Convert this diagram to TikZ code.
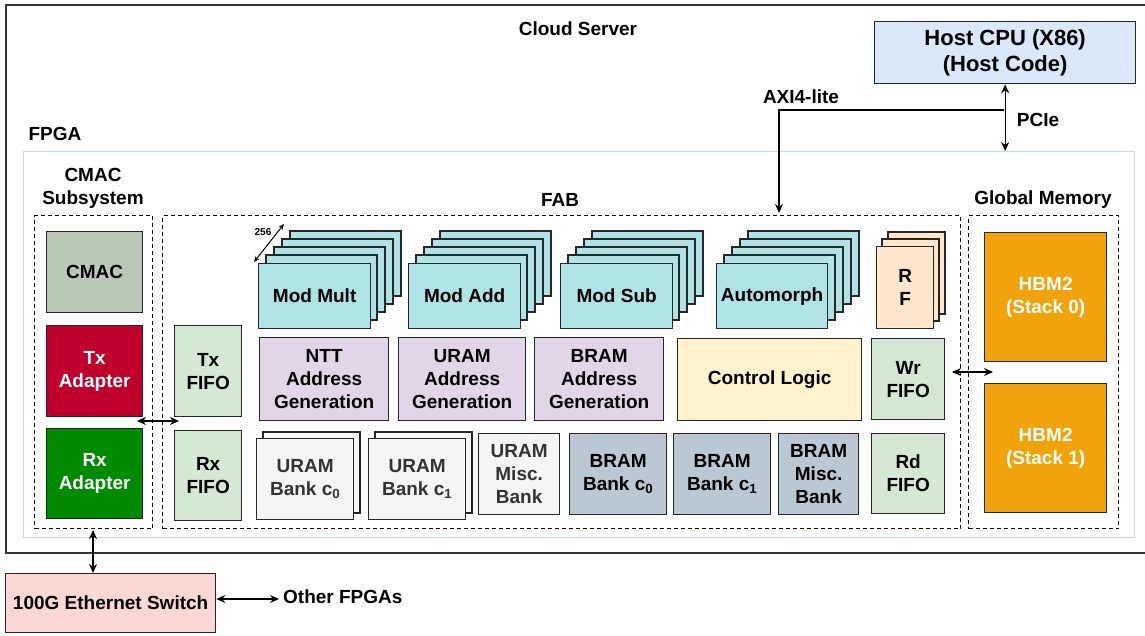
\documentclass[tikz,border=0pt]{standalone}
\usepackage{fontspec}
\setmainfont{Liberation Sans}
\usetikzlibrary{arrows.meta}
\definecolor{hostc}{HTML}{DAE8FC}
\definecolor{modc}{HTML}{B0E3E6}
\definecolor{rfc}{HTML}{FFE6CC}
\definecolor{addrc}{HTML}{E1D5E7}
\definecolor{ctrlc}{HTML}{FFF2CC}
\definecolor{fifoc}{HTML}{D5E8D4}
\definecolor{uramc}{HTML}{F5F5F5}
\definecolor{bramc}{HTML}{BAC8D3}
\definecolor{hbmc}{HTML}{F0A30A}
\definecolor{cmacc}{HTML}{BAC8B6}
\definecolor{txc}{HTML}{C0002C}
\definecolor{rxc}{HTML}{008A00}
\definecolor{swc}{HTML}{FAD9D5}
\definecolor{fpgac}{HTML}{C9D6E3}
\definecolor{cloudc}{HTML}{333333}
\definecolor{darktext}{HTML}{333333}
\tikzset{
  bx/.style={draw=black!85, line width=1.3pt, anchor=north west, inner sep=0pt,
    align=center, font=\bfseries\fontsize{19}{23}\selectfont},
  layer/.style={draw=black!85, line width=1.3pt},
  lbl/.style={font=\bfseries\fontsize{19}{23}\selectfont, inner sep=0pt, align=center},
  dbox/.style={draw=black, dash pattern=on 4pt off 3pt, line width=1.2pt},
  arr/.style={{Stealth[length=9pt,width=8pt]}-{Stealth[length=9pt,width=8pt]}, line width=1.3pt},
  sarr/.style={-{Stealth[length=9pt,width=8pt]}, line width=1.3pt},
}
\begin{document}
\begin{tikzpicture}[x=1pt,y=-1pt]
\useasboundingbox (0,0) rectangle (1145,635);
% cloud server
\draw[draw=cloudc, line width=2pt] (6,5) rectangle (1152,553);
\node[lbl] (cloudlbl) at (578,29) {Cloud Server};
% host
\node[bx, fill=hostc, minimum width=261pt, minimum height=62pt,
  font=\bfseries\fontsize{22}{26}\selectfont] (host) at (874,21) {Host CPU (X86)\\(Host Code)};
% FPGA
\node[draw=fpgac, line width=1.3pt, anchor=north west, minimum width=1111pt, minimum height=386pt, inner sep=0pt] (fpga) at (23,151) {};
\node[lbl] (fpgalbl) at (55,134) {FPGA};
% dashed groups
\node[dbox, anchor=north west, minimum width=118pt, minimum height=313pt, inner sep=0pt] (cmacsub) at (34,215) {};
\node[dbox, anchor=north west, minimum width=798pt, minimum height=313pt, inner sep=0pt] (fab) at (162,215) {};
\node[dbox, anchor=north west, minimum width=150pt, minimum height=313pt, inner sep=0pt] (gmem) at (968,215) {};
\node[lbl] (cmaclbl) at (93,188) {CMAC\\Subsystem};
\node[lbl] (fablbl) at (560,200) {FAB};
\node[lbl] (gmemlbl) at (1043,200) {Global Memory};
% CMAC subsystem
\node[bx, fill=cmacc, minimum width=96pt, minimum height=81pt] (cmac) at (46,231) {CMAC};
\node[bx, fill=txc, text=white, minimum width=96pt, minimum height=91pt] (txa) at (46,325) {Tx\\Adapter};
\node[bx, fill=rxc, text=white, minimum width=96pt, minimum height=90pt] (rxa) at (46,428) {Rx\\Adapter};
% FIFOs
\node[bx, fill=fifoc, minimum width=67pt, minimum height=91pt] (txf) at (174,325) {Tx\\FIFO};
\node[bx, fill=fifoc, minimum width=67pt, minimum height=90pt] (rxf) at (174,430) {Rx\\FIFO};
% module stacks
\foreach \xx in {258,408,560,716}{
  \foreach \k in {4,3,2,1}{
    \draw[layer, fill=modc] ({\xx+8*\k},{263-8*\k}) rectangle ++(111,65);
  }
}
\node[bx, fill=modc, minimum width=112pt, minimum height=65pt] (mult) at (258,263) {Mod Mult};
\node[bx, fill=modc, minimum width=112pt, minimum height=65pt] (add) at (408,263) {Mod Add};
\node[bx, fill=modc, minimum width=112pt, minimum height=65pt] (sub) at (560,263) {Mod Sub};
\node[bx, fill=modc, minimum width=111pt, minimum height=65pt] (auto) at (716,263) {Automorph};
\coordinate (d1) at (254,262);
\coordinate (d2) at (284,224);
\draw[{Stealth[length=6pt,width=5pt]}-{Stealth[length=6pt,width=5pt]}, line width=1pt] (d1) -- (d2);
\node[font=\bfseries\fontsize{10}{12}\selectfont, inner sep=0pt] (n256) at (263,232) {256};
% RF
\foreach \k in {2,1}{
  \draw[layer, fill=rfc] ({876+6*\k},{246-7*\k}) rectangle ++(57,82);
}
\node[bx, fill=rfc, minimum width=57pt, minimum height=82pt] (rf) at (876,246) {R\\F};
% address generation
\node[bx, fill=addrc, minimum width=129pt, minimum height=83pt] (ntt) at (259,337) {NTT\\Address\\Generation};
\node[bx, fill=addrc, minimum width=127pt, minimum height=83pt] (uaddr) at (398,337) {URAM\\Address\\Generation};
\node[bx, fill=addrc, minimum width=129pt, minimum height=83pt] (baddr) at (534,337) {BRAM\\Address\\Generation};
\node[bx, fill=ctrlc, minimum width=184pt, minimum height=82pt] (ctrl) at (677,338) {Control Logic};
\node[bx, fill=fifoc, minimum width=73pt, minimum height=81pt] (wrf) at (871,338) {Wr\\FIFO};
% memory banks
\draw[layer, fill=uramc] (263,432) rectangle ++(97,81);
\node[bx, fill=uramc, text=darktext, minimum width=97pt, minimum height=81pt] (ub0) at (256,438) {URAM\\Bank c\textsubscript{0}};
\draw[layer, fill=uramc] (375,432) rectangle ++(97,81);
\node[bx, fill=uramc, text=darktext, minimum width=97pt, minimum height=81pt] (ub1) at (368,438) {URAM\\Bank c\textsubscript{1}};
\node[bx, fill=uramc, text=darktext, minimum width=81pt, minimum height=81pt] (umisc) at (478,433) {URAM\\Misc.\\Bank};
\node[bx, fill=bramc, minimum width=97pt, minimum height=81pt] (bb0) at (569,433) {BRAM\\Bank c\textsubscript{0}};
\node[bx, fill=bramc, minimum width=97pt, minimum height=81pt] (bb1) at (673,433) {BRAM\\Bank c\textsubscript{1}};
\node[bx, fill=bramc, minimum width=80pt, minimum height=81pt] (bmisc) at (778,433) {BRAM\\Misc.\\Bank};
\node[bx, fill=fifoc, minimum width=73pt, minimum height=80pt] (rdf) at (871,433) {Rd\\FIFO};
% HBM
\node[bx, fill=hbmc, text=white, minimum width=122pt, minimum height=129pt] (hbm0) at (984,232) {HBM2\\(Stack 0)};
\node[bx, fill=hbmc, text=white, minimum width=122pt, minimum height=129pt] (hbm1) at (984,383) {HBM2\\(Stack 1)};
% switch
\node[bx, fill=swc, minimum width=210pt, minimum height=59pt] (sw) at (5,573) {100G Ethernet Switch};
\node[lbl, anchor=west, inner sep=4pt] (other) at (279,597) {Other FPGAs};
% connectors
\draw[arr] (host.south) -- (host.south |- fpga.north);
\node[lbl] (pcie) at (1038,120) {PCIe};
\coordinate (axij) at (1004,110);
\coordinate (axitip) at (779,213);
\draw[sarr] (axij) -| (axitip);
\node[lbl] (axilbl) at (801,97) {AXI4-lite};
\coordinate (c1) at (137,421);
\coordinate (c2) at (179,421);
\draw[arr] (c1) -- (c2);
\coordinate (g1) at (952,372);
\coordinate (g2) at (993,372);
\draw[arr] (g1) -- (g2);
\coordinate (e1) at (93,530);
\draw[arr] (e1) -- (e1 |- sw.north);
\draw[arr] (sw.east |- 0,599) -- (other.west |- 0,599);
\end{tikzpicture}
\end{document}
